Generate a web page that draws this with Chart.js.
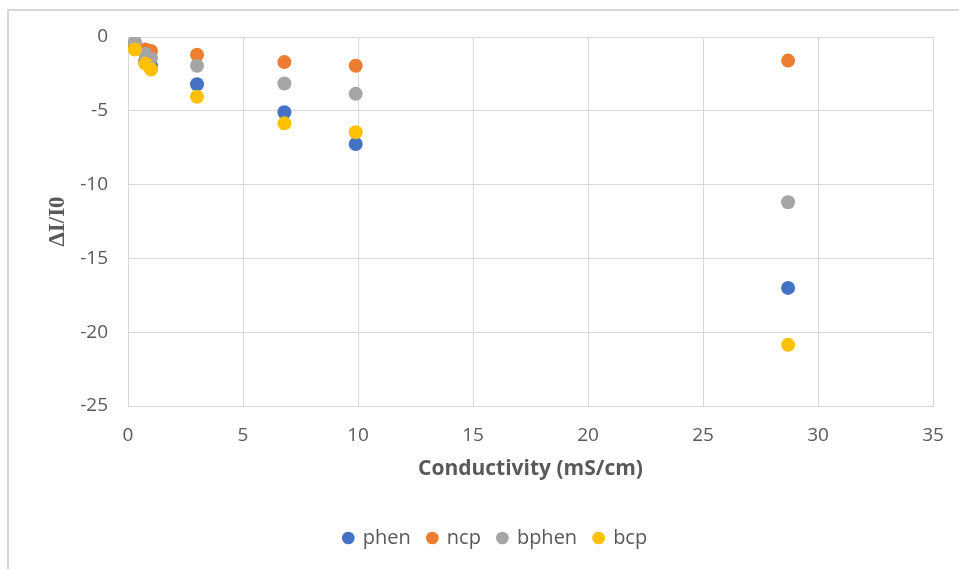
<!DOCTYPE html>
<html>
<head>
<meta charset="utf-8">
<script src="https://cdn.jsdelivr.net/npm/chart.js@4/dist/chart.umd.min.js"></script>
<style>
  html, body { margin: 0; padding: 0; background: #ffffff; }
  #wrap { width: 959px; height: 569px; position: relative; }
</style>
</head>
<body>
<div id="wrap"><canvas id="c" width="959" height="569"></canvas></div>
<script>
// Conductivity of the samples (mS/cm)
const conductivity = [0.3, 0.75, 1.0, 3.0, 6.8, 9.9, 28.7];

// Relative current change ΔI/I0 for each ligand
const phen  = [-0.7, -1.65, -1.95, -3.2, -5.1, -7.25, -17.0];
const ncp   = [-0.6, -0.85, -0.95, -1.2, -1.7, -1.95, -1.6];
const bphen = [-0.35, -1.15, -1.45, -1.95, -3.15, -3.85, -11.2];
const bcp   = [-0.85, -1.8, -2.2, -4.05, -5.85, -6.45, -20.85];

const seriesNames = ['phen', 'ncp', 'bphen', 'bcp'];
const seriesValues = [phen, ncp, bphen, bcp];
const seriesColors = ['#4472C4', '#ED7D31', '#A5A5A5', '#FFC000'];

const xTicks = [0, 5, 10, 15, 20, 25, 30, 35];
const yTicks = [0, -5, -10, -15, -20, -25];

const datasets = seriesNames.map((name, i) => ({
  label: name,
  data: conductivity.map((x, k) => ({ x: x, y: seriesValues[i][k] })),
  backgroundColor: seriesColors[i],
  borderColor: seriesColors[i],
  pointRadius: 7,
  pointHoverRadius: 7,
  borderWidth: 0,
  // later series are painted on top of earlier ones
  order: seriesNames.length - i
}));

// Light frame around the chart
const frame = {
  id: 'frame',
  beforeDraw(chart) {
    const ctx = chart.ctx;
    ctx.save();
    ctx.strokeStyle = '#D9D9D9';
    ctx.lineWidth = 2;
    ctx.strokeRect(8, 10, 1000, 600);
    ctx.restore();
  }
};

const tickFont = { family: '"Open Sans", sans-serif', size: 19 };

new Chart(document.getElementById('c'), {
  type: 'scatter',
  data: { datasets },
  plugins: [frame],
  options: {
    responsive: false,
    animation: false,
    layout: { padding: { left: 58, right: 26, top: 37, bottom: 11 } },
    plugins: {
      legend: {
        position: 'bottom',
        labels: {
          usePointStyle: true,
          pointStyle: 'circle',
          boxWidth: 9,
          boxHeight: 9,
          padding: 17,
          color: '#595959',
          font: { family: '"Open Sans", sans-serif', size: 20 },
          sort: (a, b) => a.datasetIndex - b.datasetIndex
        }
      },
      tooltip: { enabled: false }
    },
    scales: {
      x: {
        type: 'linear',
        min: 0,
        max: 35,
        afterBuildTicks: (s) => { s.ticks = xTicks.map(v => ({ value: v })); },
        afterFit: (s) => { s.height = 105; s.paddingRight = 0; },
        grid: { color: '#D9D9D9', lineWidth: 1, drawTicks: false },
        border: { color: '#D9D9D9' },
        ticks: { color: '#595959', font: tickFont, padding: 18 },
        title: {
          display: true,
          text: 'Conductivity (mS/cm)',
          color: '#595959',
          font: { family: '"Open Sans", sans-serif', size: 21, weight: 'bold' },
          padding: { top: 0, bottom: 29 }
        }
      },
      y: {
        type: 'linear',
        min: -25,
        max: 0,
        afterBuildTicks: (s) => { s.ticks = yTicks.map(v => ({ value: v })); },
        afterFit: (s) => { s.width = 70; },
        grid: { color: '#D9D9D9', lineWidth: 1, drawTicks: false },
        border: { color: '#D9D9D9' },
        ticks: { color: '#595959', font: tickFont, padding: 20 },
        title: {
          display: true,
          text: 'ΔI/I0',
          color: '#595959',
          font: { family: '"Liberation Serif", serif', size: 23, weight: 'bold' },
          padding: { top: -14, bottom: 0 }
        }
      }
    }
  }
});
</script>
</body>
</html>
